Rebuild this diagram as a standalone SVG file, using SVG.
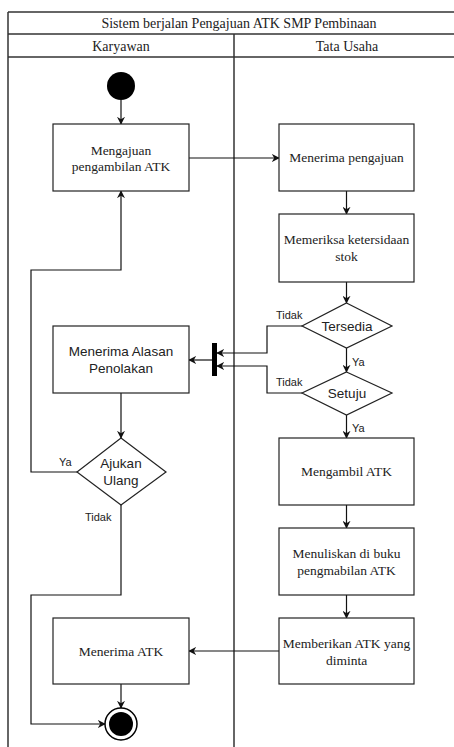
<svg xmlns="http://www.w3.org/2000/svg" width="454" height="747" viewBox="0 0 454 747">
<style>
.lane{fill:none;stroke:#333;stroke-width:1.5}
.box{fill:#fff;stroke:#222;stroke-width:1.2}
.ser{font-family:"Liberation Serif","Times New Roman",serif;font-size:13.5px;fill:#222;text-anchor:middle}
.hdr{font-family:"Liberation Serif","Times New Roman",serif;font-size:14px;fill:#222;text-anchor:middle}
.sans{font-family:"Liberation Sans",Arial,sans-serif;font-size:13.5px;fill:#222;text-anchor:middle}
.lbl{font-family:"Liberation Sans",Arial,sans-serif;font-size:11px;fill:#222}
.con{fill:none;stroke:#111;stroke-width:1.2}
</style>
<defs>
<marker id="arr" viewBox="0 0 10 10" refX="9" refY="5" markerWidth="8" markerHeight="8" markerUnits="userSpaceOnUse" orient="auto">
<path d="M0,0 L10,5 L0,10 L3,5 z" fill="#111"/>
</marker>
</defs>
<rect width="454" height="747" fill="#fff"/>
<g id="pool">
<line class="lane" x1="8" y1="12" x2="470" y2="12"/>
<line class="lane" x1="8" y1="34" x2="470" y2="34"/>
<line class="lane" x1="8" y1="57" x2="470" y2="57"/>
<line class="lane" x1="8" y1="12" x2="8" y2="747"/>
<line class="lane" x1="234" y1="34" x2="234" y2="747"/>
<text class="hdr" x="239" y="28">Sistem berjalan Pengajuan ATK SMP Pembinaan</text>
<text class="hdr" x="121" y="51">Karyawan</text>
<text class="hdr" x="347" y="51">Tata Usaha</text>
</g>
<g id="connectors">
<line class="con" x1="121" y1="100" x2="121" y2="124" marker-end="url(#arr)"/>
<line class="con" x1="189" y1="158" x2="279" y2="158" marker-end="url(#arr)"/>
<line class="con" x1="346.5" y1="191" x2="346.5" y2="214" marker-end="url(#arr)"/>
<line class="con" x1="346.5" y1="282" x2="346.5" y2="303" marker-end="url(#arr)"/>
<polyline class="con" points="302,326 267,326 267,353 217,353" marker-end="url(#arr)"/>
<polyline class="con" points="302,393 267,393 267,366 217,366" marker-end="url(#arr)"/>
<line class="con" x1="212" y1="360" x2="189" y2="360" marker-end="url(#arr)"/>
<line class="con" x1="346.5" y1="348" x2="346.5" y2="372" marker-end="url(#arr)"/>
<line class="con" x1="346.5" y1="415" x2="346.5" y2="438" marker-end="url(#arr)"/>
<line class="con" x1="121" y1="393" x2="121" y2="438" marker-end="url(#arr)"/>
<polyline class="con" points="77,472 31,472 31,270 121,270 121,191" marker-end="url(#arr)"/>
<polyline class="con" points="121,505 121,595 31,595 31,724 105,724" marker-end="url(#arr)"/>
<line class="con" x1="346.5" y1="505" x2="346.5" y2="528" marker-end="url(#arr)"/>
<line class="con" x1="346.5" y1="595" x2="346.5" y2="618" marker-end="url(#arr)"/>
<line class="con" x1="279" y1="651" x2="189" y2="651" marker-end="url(#arr)"/>
<line class="con" x1="121" y1="684" x2="121" y2="708" marker-end="url(#arr)"/>
<text class="lbl" x="276" y="319">Tidak</text>
<text class="lbl" x="276" y="386">Tidak</text>
<text class="lbl" x="352" y="366">Ya</text>
<text class="lbl" x="352" y="432">Ya</text>
<text class="lbl" x="59" y="466">Ya</text>
<text class="lbl" x="85" y="521">Tidak</text>
</g>
<g id="start"><circle cx="121" cy="86" r="14" fill="#000"/></g>
<g id="n_mengajuan">
<rect class="box" x="53" y="124" width="136" height="67"/>
<text class="ser" x="121" y="155">Mengajuan</text>
<text class="ser" x="121" y="171">pengambilan ATK</text>
</g>
<g id="n_menerima_pengajuan">
<rect class="box" x="279" y="124" width="135" height="67"/>
<text class="ser" x="346.5" y="162">Menerima pengajuan</text>
</g>
<g id="n_memeriksa">
<rect class="box" x="279" y="214" width="135" height="68"/>
<text class="ser" x="346.5" y="244">Memeriksa ketersidaan</text>
<text class="ser" x="346.5" y="261">stok</text>
</g>
<g id="d_tersedia">
<polygon class="box" points="346.5,303 392,326 346.5,348 302,326"/>
<text class="sans" x="347" y="331">Tersedia</text>
</g>
<g id="d_setuju">
<polygon class="box" points="346.5,372 392,393 346.5,415 302,393"/>
<text class="sans" x="347" y="398">Setuju</text>
</g>
<g id="bar"><rect x="212" y="343" width="5" height="33" fill="#000"/></g>
<g id="n_alasan">
<rect class="box" x="53" y="326" width="136" height="67"/>
<text class="sans" x="121" y="356">Menerima Alasan</text>
<text class="sans" x="121" y="373">Penolakan</text>
</g>
<g id="d_ajukan">
<polygon class="box" points="121,438 166,472 121,505 77,472"/>
<text class="sans" x="121" y="468">Ajukan</text>
<text class="sans" x="121" y="485">Ulang</text>
</g>
<g id="n_mengambil">
<rect class="box" x="279" y="438" width="135" height="67"/>
<text class="ser" x="346.5" y="476">Mengambil ATK</text>
</g>
<g id="n_menuliskan">
<rect class="box" x="279" y="528" width="135" height="67"/>
<text class="ser" x="346.5" y="558">Menuliskan di buku</text>
<text class="ser" x="346.5" y="575">pengmabilan ATK</text>
</g>
<g id="n_memberikan">
<rect class="box" x="279" y="618" width="135" height="66"/>
<text class="ser" x="346.5" y="648">Memberikan ATK yang</text>
<text class="ser" x="346.5" y="665">diminta</text>
</g>
<g id="n_menerima_atk">
<rect class="box" x="53" y="618" width="136" height="66"/>
<text class="ser" x="121" y="656">Menerima ATK</text>
</g>
<g id="end">
<circle cx="121" cy="724" r="16" fill="#fff" stroke="#000" stroke-width="1.5"/>
<circle cx="121" cy="724" r="12" fill="#000"/>
</g>
</svg>
